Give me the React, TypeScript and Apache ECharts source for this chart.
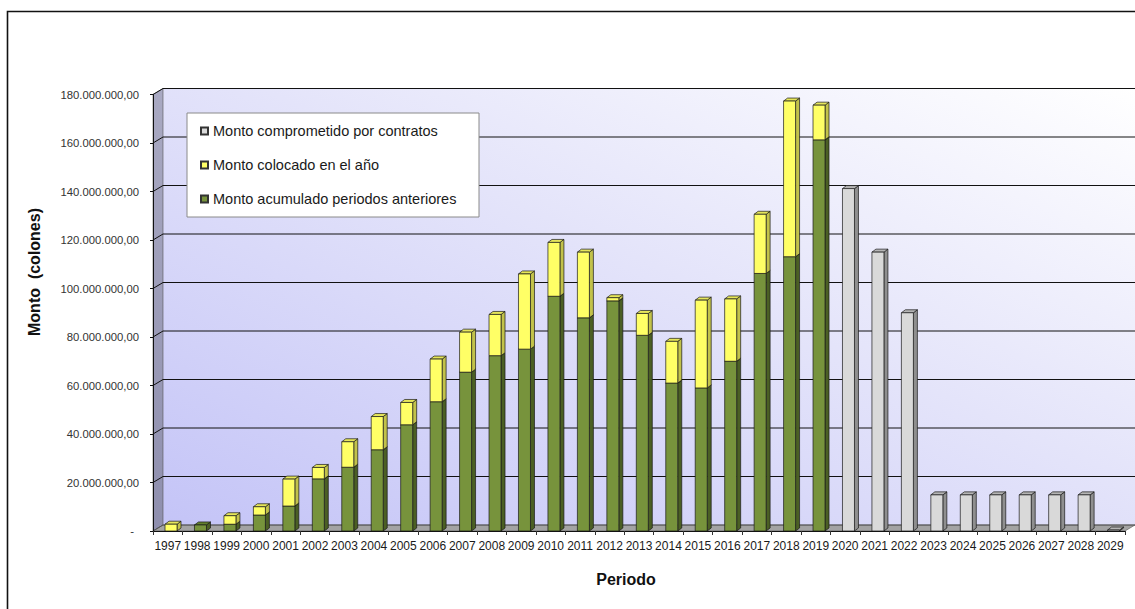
import React, { useEffect, useRef } from "react";
import * as echarts from "echarts";

const YEARS = [
  "1997", "1998", "1999", "2000", "2001", "2002", "2003", "2004", "2005", "2006", "2007",
  "2008", "2009", "2010", "2011", "2012", "2013", "2014", "2015", "2016", "2017", "2018",
  "2019", "2020", "2021", "2022", "2023", "2024", "2025", "2026", "2027", "2028", "2029",
];

// Monto acumulado periodos anteriores (green)
const ACUMULADO = [
  0, 2500000, 2800000, 6600000, 10300000, 21500000, 26300000, 33500000, 43800000, 53300000, 65500000,
  72300000, 75000000, 96800000, 87900000, 94900000, 80700000, 61000000, 59000000, 70000000, 106200000, 113100000,
  161300000, 0, 0, 0, 0, 0, 0, 0, 0, 0, 0,
];

// Monto colocado en el año (yellow)
const COLOCADO = [
  2800000, 0, 3500000, 3400000, 11100000, 4700000, 10500000, 13700000, 9200000, 17600000, 16500000,
  17000000, 31000000, 22200000, 27100000, 1300000, 9000000, 17200000, 36200000, 25700000, 24400000, 64200000,
  14300000, 0, 0, 0, 0, 0, 0, 0, 0, 0, 0,
];

// Monto comprometido por contratos (gray)
const COMPROMETIDO = [
  0, 0, 0, 0, 0, 0, 0, 0, 0, 0, 0,
  0, 0, 0, 0, 0, 0, 0, 0, 0, 0, 0,
  0, 141200000, 115000000, 90000000, 14900000, 14900000, 14900000, 14900000, 14900000, 14900000, 400000,
];

const SERIES_NAMES = [
  "Monto comprometido por contratos",
  "Monto colocado en el año",
  "Monto acumulado periodos anteriores",
];

const Y_MAX = 180000000;
const Y_STEP = 20000000;

const FONT = "'Liberation Sans', Arial, sans-serif";
const DX = 10;
const DY = -6;
const BAR_W = 12;
const BAR_SHIFT = 3.3;
const BDX = 4;
const BDY = -3;

const fmt = (v: number) =>
  v === 0 ? "{z|-}" : String(Math.round(v)).replace(/\B(?=(\d{3})+(?!\d))/g, ".") + ",00";

function barRender(front: string, side: string, top: string) {
  return (params: any, api: any) => {
    const idx = api.value(0);
    const lo = api.value(1);
    const hi = api.value(2);
    if (!(hi > lo)) return { type: "group", children: [] };
    const pLo = api.coord([idx, lo]);
    const pHi = api.coord([idx, hi]);
    const cx = pLo[0] + BAR_SHIFT;
    const l = cx - BAR_W / 2;
    const r = cx + BAR_W / 2;
    const yb = pLo[1];
    const yt = pHi[1];
    const st = { stroke: "#1a1a1a", lineWidth: 0.7 };
    return {
      type: "group",
      children: [
        {
          type: "polygon",
          shape: { points: [[r, yt], [r + BDX, yt + BDY], [r + BDX, yb + BDY], [r, yb]] },
          style: { fill: side, ...st },
        },
        {
          type: "polygon",
          shape: { points: [[l, yt], [l + BDX, yt + BDY], [r + BDX, yt + BDY], [r, yt]] },
          style: { fill: top, ...st },
        },
        {
          type: "rect",
          shape: { x: l, y: yt, width: BAR_W, height: yb - yt },
          style: { fill: front, ...st },
        },
      ],
    };
  };
}

function wallsRender(params: any, api: any) {
  const band = api.size([1, 0])[0];
  const x0 = api.coord([0, 0])[0] - band / 2;
  const x1 = api.coord([YEARS.length - 1, 0])[0] + band / 2;
  const y0 = api.coord([0, 0])[1];
  const yT = api.coord([0, Y_MAX])[1];
  const children: any[] = [];
  children.push({
    type: "rect",
    shape: { x: x0 + DX, y: yT + DY, width: x1 - x0, height: y0 - yT },
    style: {
      fill: new echarts.graphic.LinearGradient(0, 1, 1, 0, [
        { offset: 0, color: "#c4c4f7" },
        { offset: 0.55, color: "#e4e4fa" },
        { offset: 1, color: "#ffffff" },
      ]),
    },
  });
  children.push({
    type: "polygon",
    shape: { points: [[x0, yT], [x0 + DX, yT + DY], [x0 + DX, y0 + DY], [x0, y0]] },
    style: {
      fill: new echarts.graphic.LinearGradient(0, 0, 0, 1, [
        { offset: 0, color: "#a9a9c2" },
        { offset: 1, color: "#8f8fae" },
      ]),
      stroke: "#555",
      lineWidth: 0.6,
    },
  });
  children.push({
    type: "polygon",
    shape: { points: [[x0, y0], [x0 + DX, y0 + DY], [x1 + DX, y0 + DY], [x1, y0]] },
    style: { fill: "#a3a3a3", stroke: "#555", lineWidth: 0.6 },
  });
  for (let v = 0; v <= Y_MAX; v += Y_STEP) {
    const y = api.coord([0, v])[1];
    children.push({
      type: "polyline",
      shape: { points: [[x0, y], [x0 + DX, y + DY], [x1 + DX, y + DY]] },
      style: { stroke: v === 0 ? "#555" : "#111", lineWidth: 1, fill: null },
    });
  }
  return { type: "group", children };
}

export default function App() {
  const ref = useRef<HTMLDivElement>(null);
  useEffect(() => {
    if (!ref.current) return;
    const chart = echarts.init(ref.current, null, { renderer: "svg" });
    const green = YEARS.map((_, i) => [i, 0, ACUMULADO[i]]);
    const yellow = YEARS.map((_, i) => [i, ACUMULADO[i], ACUMULADO[i] + COLOCADO[i]]);
    const gray = YEARS.map((_, i) => [i, 0, COMPROMETIDO[i]]);
    chart.setOption({
      animation: false,
      backgroundColor: "#ffffff",
      textStyle: { fontFamily: FONT },
      grid: {
        left: 153,
        right: 10,
        top: 94.5,
        bottom: 78,
        outerBoundsMode: "none",
        containLabel: false,
      },
      xAxis: {
        type: "category",
        data: YEARS,
        axisLine: { show: true, lineStyle: { color: "#111", width: 1 } },
        axisTick: { show: true, length: 4, lineStyle: { color: "#333" } },
        axisLabel: { interval: 0, fontSize: 12, color: "#1a1a1a", margin: 9, fontFamily: FONT },
        splitLine: { show: false },
        z: 5,
      },
      yAxis: {
        type: "value",
        min: 0,
        max: Y_MAX,
        interval: Y_STEP,
        axisLine: { show: true, lineStyle: { color: "#111", width: 1 } },
        axisTick: { show: true, length: 3, lineStyle: { color: "#111" } },
        axisLabel: {
          fontSize: 11.3,
          color: "#333333",
          margin: 14,
          fontFamily: FONT,
          formatter: fmt,
          rich: { z: { fontSize: 11.3, color: "#333333", fontFamily: FONT, padding: [0, 5, 0, 0] } },
        },
        splitLine: { show: false },
        z: 5,
      },
      legend: {
        data: SERIES_NAMES,
        orient: "vertical",
        left: 200,
        top: 123,
        padding: 0,
        icon: "rect",
        itemWidth: 7,
        itemHeight: 7,
        itemGap: 18,
        z: 60,
        textStyle: { fontSize: 14.5, color: "#1a1a1a", fontFamily: FONT, lineHeight: 16 },
      },
      graphic: [
        {
          type: "rect",
          z: 50,
          shape: { x: 187, y: 113, width: 292, height: 104 },
          style: { fill: "#ffffff", stroke: "#8a8a8a", lineWidth: 1 },
        },
        {
          type: "text",
          z: 50,
          x: 34,
          y: 272,
          rotation: Math.PI / 2,
          style: {
            text: "Monto  (colones)",
            fill: "#111",
            fontSize: 16,
            fontWeight: "bold",
            fontFamily: FONT,
            align: "center",
            verticalAlign: "middle",
          },
        },
        {
          type: "text",
          z: 50,
          x: 626,
          y: 579,
          style: {
            text: "Periodo",
            fill: "#111",
            fontSize: 16,
            fontWeight: "bold",
            fontFamily: FONT,
            align: "center",
            verticalAlign: "middle",
          },
        },
        {
          type: "polyline",
          z: 100,
          shape: { points: [[7.5, 620], [7.5, 11.5], [1140, 11.5]] },
          style: { stroke: "#111", lineWidth: 1.6, fill: null },
        },
      ],
      series: [
        {
          type: "custom",
          name: "walls",
          coordinateSystem: "cartesian2d",
          data: [[0, 0]],
          renderItem: wallsRender,
          clip: false,
          silent: true,
          z: 1,
        },
        {
          type: "custom",
          name: SERIES_NAMES[2],
          coordinateSystem: "cartesian2d",
          data: green,
          encode: { x: 0, y: [1, 2] },
          renderItem: barRender("#77933c", "#4b5f24", "#63802e"),
          itemStyle: { color: "#77933c", borderColor: "#333", borderWidth: 0.7 },
          clip: false,
          z: 2,
        },
        {
          type: "custom",
          name: SERIES_NAMES[1],
          coordinateSystem: "cartesian2d",
          data: yellow,
          encode: { x: 0, y: [1, 2] },
          renderItem: barRender("#ffff66", "#c2c24a", "#e6e65a"),
          itemStyle: { color: "#ffff66", borderColor: "#333", borderWidth: 0.7 },
          clip: false,
          z: 3,
        },
        {
          type: "custom",
          name: SERIES_NAMES[0],
          coordinateSystem: "cartesian2d",
          data: gray,
          encode: { x: 0, y: [1, 2] },
          renderItem: barRender("#d9d9d9", "#8f8f8f", "#b5b5b5"),
          itemStyle: { color: "#d9d9d9", borderColor: "#333", borderWidth: 0.7 },
          clip: false,
          z: 3,
        },
      ],
    });
    return () => chart.dispose();
  }, []);
  return (
    <div
      ref={ref}
      style={{ position: "fixed", left: 0, top: 0, width: 1135, height: 609 }}
    />
  );
}
